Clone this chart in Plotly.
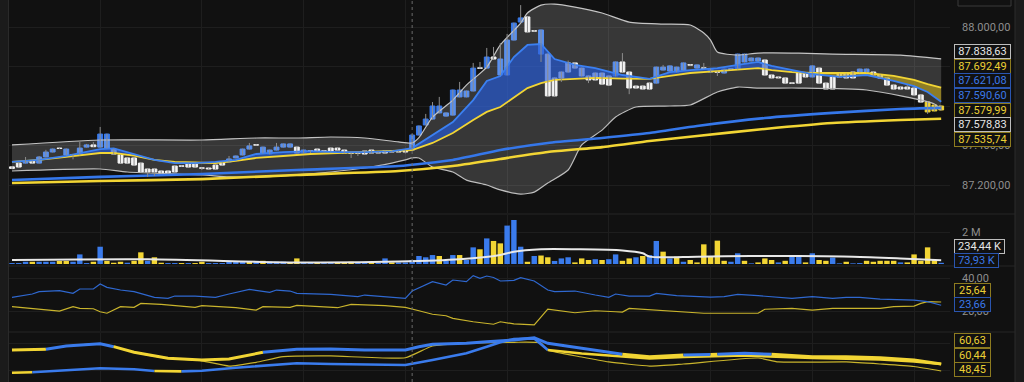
import plotly.graph_objects as go

# ---------------- DATA ----------------
opens = [87292, 87311, 87311, 87322, 87311, 87342, 87367, 87387, 87352, 87354,
         87352, 87392, 87403, 87392, 87387, 87382, 87352, 87337, 87337, 87311,
         87281, 87281, 87271, 87271, 87296, 87297, 87306, 87306, 87287, 87286,
         87301, 87317, 87317, 87337, 87352, 87382, 87404, 87362, 87357, 87377,
         87392, 87392, 87392, 87362, 87373, 87382, 87373, 87387, 87387, 87377,
         87363, 87363, 87372, 87377, 87367, 87372, 87372, 87372, 87370, 87377,
         87453, 87504, 87534, 87565, 87549, 87554, 87646, 87646, 87676, 87793,
         87792, 87848, 87757, 87757, 87934, 88025, 88051, 87981, 87863, 87863,
         87742, 87772, 87818, 87818, 87792, 87752, 87767, 87767, 87752, 87752,
         87823, 87772, 87701, 87701, 87716, 87716, 87782, 87777, 87772, 87782,
         87809, 87792, 87793, 87772, 87773, 87767, 87788, 87787, 87823, 87828,
         87828, 87833, 87757, 87747, 87742, 87717, 87767, 87767, 87747, 87792,
         87716, 87747, 87762, 87762, 87772, 87772, 87772, 87772, 87757, 87742,
         87706, 87696, 87696, 87691, 87656, 87620, 87605, 87600]
closes = [87284, 87291, 87322, 87311, 87342, 87367, 87382, 87385, 87382, 87351,
          87387, 87403, 87394, 87458, 87458, 87357, 87311, 87311, 87301, 87266,
          87266, 87266, 87261, 87261, 87266, 87295, 87291, 87291, 87285, 87281,
          87281, 87301, 87332, 87347, 87382, 87398, 87402, 87392, 87377, 87392,
          87408, 87408, 87362, 87377, 87371, 87372, 87371, 87372, 87377, 87362,
          87361, 87361, 87357, 87362, 87362, 87362, 87367, 87367, 87367, 87453,
          87499, 87534, 87600, 87600, 87565, 87681, 87681, 87676, 87792, 87791,
          87848, 87838, 87838, 87934, 88020, 88046, 87975, 87979, 87985, 87651,
          87651, 87742, 87772, 87792, 87752, 87732, 87732, 87711, 87706, 87823,
          87772, 87691, 87691, 87686, 87686, 87797, 87797, 87803, 87797, 87818,
          87807, 87808, 87791, 87787, 87771, 87787, 87786, 87863, 87863, 87843,
          87843, 87757, 87742, 87742, 87716, 87715, 87716, 87747, 87803, 87716,
          87686, 87686, 87747, 87742, 87742, 87787, 87787, 87757, 87742, 87706,
          87686, 87686, 87686, 87656, 87620, 87570, 87575, 87580]
highs = [87296, 87313, 87342, 87324, 87347, 87378, 87385, 87392, 87385, 87357,
         87418, 87408, 87418, 87494, 87460, 87384, 87354, 87339, 87339, 87313,
         87283, 87283, 87273, 87273, 87298, 87299, 87308, 87308, 87289, 87288,
         87303, 87319, 87347, 87349, 87384, 87413, 87406, 87394, 87379, 87413,
         87410, 87410, 87394, 87379, 87375, 87384, 87375, 87389, 87389, 87379,
         87365, 87365, 87374, 87379, 87369, 87374, 87374, 87374, 87380, 87458,
         87501, 87560, 87620, 87646, 87567, 87683, 87722, 87678, 87818, 87823,
         87894, 87899, 87919, 87965, 88022, 88111, 88053, 87985, 87987, 87865,
         87744, 87774, 87830, 87820, 87794, 87754, 87769, 87769, 87754, 87825,
         87868, 87774, 87703, 87703, 87718, 87799, 87808, 87805, 87799, 87820,
         87811, 87810, 87818, 87789, 87775, 87789, 87790, 87865, 87865, 87845,
         87845, 87835, 87759, 87749, 87744, 87719, 87769, 87769, 87805, 87794,
         87718, 87749, 87764, 87764, 87774, 87789, 87789, 87774, 87759, 87744,
         87708, 87698, 87706, 87693, 87658, 87622, 87607, 87602]
lows = [87280, 87289, 87309, 87309, 87309, 87340, 87365, 87382, 87350, 87330,
        87350, 87390, 87392, 87390, 87385, 87355, 87309, 87309, 87299, 87264,
        87241, 87246, 87259, 87259, 87264, 87293, 87289, 87289, 87276, 87279,
        87279, 87299, 87315, 87335, 87350, 87380, 87400, 87360, 87355, 87375,
        87390, 87390, 87360, 87360, 87362, 87370, 87369, 87370, 87375, 87360,
        87337, 87347, 87355, 87360, 87360, 87360, 87365, 87365, 87360, 87375,
        87451, 87502, 87532, 87563, 87547, 87552, 87644, 87644, 87674, 87789,
        87790, 87836, 87755, 87755, 87932, 88023, 87970, 87977, 87823, 87649,
        87649, 87722, 87770, 87790, 87750, 87716, 87730, 87709, 87704, 87750,
        87770, 87660, 87689, 87684, 87684, 87714, 87780, 87775, 87770, 87780,
        87805, 87790, 87789, 87770, 87752, 87765, 87784, 87785, 87821, 87826,
        87826, 87755, 87740, 87740, 87714, 87713, 87714, 87745, 87745, 87714,
        87684, 87684, 87745, 87740, 87740, 87770, 87770, 87755, 87740, 87704,
        87684, 87684, 87684, 87654, 87618, 87560, 87573, 87578]
highlight_candles = [135, 136, 137]
cursor_index = 59

bb_upper_idx = [0, 13, 28, 36, 42, 47, 52, 57, 59, 60, 62, 65, 67, 70, 72, 75, 76, 78, 80, 83,
                87, 91, 96, 100, 102, 103, 104, 107, 110, 116, 121, 131, 137]
bb_upper = [87403, 87428, 87428, 87438, 87438, 87443, 87438, 87418, 87413, 87440, 87544, 87630,
            87706, 87797, 87909, 88020, 88071, 88111, 88116, 88101, 88071, 88025, 88015, 88010,
            87970, 87934, 87873, 87858, 87868, 87868, 87863, 87858, 87838.63]
bb_lower_idx = [0, 13, 17, 28, 32, 37, 42, 47, 52, 56, 58, 59, 60, 62, 65, 67, 70, 72, 75, 77,
                79, 82, 84, 87, 89, 92, 97, 100, 104, 107, 110, 116, 126, 136, 137]
bb_lower = [87271, 87281, 87266, 87251, 87241, 87241, 87251, 87266, 87286, 87311, 87327, 87337,
            87337, 87291, 87266, 87225, 87200, 87175, 87154, 87164, 87210, 87276, 87403, 87478,
            87544, 87595, 87600, 87605, 87671, 87696, 87691, 87691, 87681, 87610, 87578.83]

ema_fast_idx = [0, 4, 8, 13, 15, 18, 21, 24, 27, 30, 33, 36, 40, 44, 48, 52, 56, 59, 62, 65,
                68, 70, 72, 74, 76, 78, 80, 83, 86, 90, 94, 97, 100, 104, 108, 110, 112, 115,
                118, 122, 126, 130, 133, 135, 137]
ema_fast_blue = [87317, 87327, 87347, 87382, 87385, 87357, 87327, 87311, 87311, 87317, 87327,
                 87357, 87367, 87372, 87367, 87367, 87370, 87387, 87451, 87519, 87630, 87727,
                 87752, 87848, 87909, 87914, 87838, 87808, 87792, 87757, 87737, 87772, 87782,
                 87792, 87813, 87823, 87803, 87782, 87762, 87747, 87757, 87727, 87701, 87671,
                 87621.08]
ema_fast_yellow = [87317, 87327, 87342, 87362, 87362, 87349, 87327, 87317, 87314, 87311, 87322,
                   87337, 87347, 87357, 87362, 87367, 87372, 87377, 87413, 87463, 87529, 87570,
                   87595, 87641, 87691, 87716, 87732, 87737, 87742, 87739, 87737, 87752, 87767,
                   87777, 87787, 87792, 87782, 87772, 87767, 87767, 87767, 87752, 87732, 87711,
                   87692.49]
ema_slow_idx = [0, 13, 28, 42, 57, 65, 72, 79, 87, 94, 101, 111, 121, 131, 137]
ema_slow_blue = [87225, 87241, 87256, 87276, 87296, 87327, 87377, 87413, 87438, 87463, 87499,
                 87539, 87565, 87585, 87590.60]
ema_slow_yellow = [87210, 87220, 87230, 87251, 87271, 87296, 87332, 87367, 87392, 87423, 87448,
                   87484, 87514, 87529, 87535.74]

volume_m = [0.06, 0.06, 0.14, 0.14, 0.14, 0.14, 0.14, 0.19, 0.19, 0.14,
            0.6, 0.06, 0.14, 1.08, 0.19, 0.08, 0.14, 0.08, 0.2, 0.73,
            0.2, 0.42, 0.08, 0.06, 0.06, 0.06, 0.06, 0.06, 0.14, 0.06,
            0.06, 0.06, 0.19, 0.14, 0.14, 0.14, 0.19, 0.2, 0.14, 0.14,
            0.14, 0.1, 0.35, 0.1, 0.1, 0.06, 0.06, 0.06, 0.1, 0.1,
            0.14, 0.1, 0.06, 0.06, 0.06, 0.35, 0.1, 0.1, 0.1, 0.25,
            0.5, 0.42, 0.56, 0.5, 0.2, 0.56, 0.56, 0.25, 1.04, 0.92,
            1.6, 1.44, 1.29, 2.4, 2.75, 1.08, 0.14, 0.5, 0.53, 0.42,
            0.19, 0.35, 0.42, 0.1, 0.35, 0.25, 0.3, 0.25, 0.3, 0.6,
            0.2, 0.35, 0.42, 0.5, 0.56, 1.44, 0.77, 0.35, 0.46, 0.14,
            0.25, 0.1, 1.23, 0.5, 1.46, 0.2, 0.14, 0.67, 0.2, 0.04,
            0.1, 0.35, 0.25, 0.1, 0.2, 0.46, 0.56, 0.1, 0.67, 0.25,
            0.2, 0.4, 0.04, 0.14, 0.04, 0.06, 0.2, 0.14, 0.2, 0.2,
            0.2, 0.1, 0.1, 0.6, 0.2, 1.04, 0.25, 0.07393]
volume_side = ['b', 'b', 'b', 'y', 'b', 'b', 'b', 'y', 'y', 'b',
               'b', 'b', 'y', 'b', 'y', 'y', 'y', 'b', 'y', 'y',
               'b', 'y', 'y', 'b', 'b', 'y', 'b', 'y', 'y', 'b',
               'b', 'b', 'b', 'b', 'b', 'y', 'b', 'y', 'b', 'b',
               'b', 'y', 'y', 'b', 'b', 'y', 'b', 'b', 'y', 'y',
               'y', 'b', 'b', 'y', 'b', 'b', 'y', 'b', 'b', 'b',
               'b', 'b', 'b', 'y', 'b', 'b', 'y', 'b', 'b', 'y',
               'b', 'y', 'y', 'b', 'b', 'b', 'y', 'b', 'y', 'y',
               'b', 'b', 'b', 'y', 'y', 'y', 'b', 'y', 'b', 'b',
               'y', 'y', 'b', 'y', 'b', 'b', 'y', 'b', 'y', 'b',
               'y', 'y', 'y', 'y', 'y', 'y', 'b', 'b', 'y', 'b',
               'y', 'y', 'y', 'b', 'y', 'b', 'b', 'y', 'b', 'y',
               'y', 'b', 'b', 'y', 'b', 'b', 'y', 'y', 'y', 'y',
               'y', 'b', 'y', 'y', 'y', 'y', 'y', 'b']
vol_ma_idx = [0, 20, 42, 57, 66, 72, 74, 78, 83, 90, 93, 94, 101, 109, 116, 124, 131, 137]
vol_ma_m = [0.25, 0.29, 0.1, 0.15, 0.29, 0.56, 0.77, 0.92, 0.92, 0.85, 0.67, 0.46, 0.46, 0.5,
            0.5, 0.46, 0.35, 0.23444]

dmi_blue_idx = [0, 2, 3, 4, 7, 9, 10, 12, 13, 14, 16, 18, 21, 23, 24, 27, 30, 32, 35, 38,
                39, 41, 42, 47, 51, 52, 55, 58, 59, 62, 64, 65, 67, 68, 69, 70, 71, 72, 74, 75,
                77, 79, 80, 83, 86, 88, 89, 91, 94, 95, 98, 103, 105, 107, 110, 113, 115, 118,
                121, 123, 125, 128, 133, 135, 137]
dmi_blue = [28.4, 29.6, 30.4, 31.8, 32.4, 30.8, 33.4, 33.4, 36.4, 34.4, 32.8, 31.8, 28.4, 27.8,
            29.2, 29.2, 28.4, 30.4, 33.2, 31.4, 32.8, 32.2, 30.8, 30.2, 28.8, 29.8, 28.9, 27.8,
            32.2, 37.8, 35.8, 38.8, 37.8, 41.4, 39.8, 41.2, 40.3, 38.2, 38.6, 40.2, 38.2, 32.8,
            31.8, 32.2, 29.8, 28.4, 30.4, 29.2, 29.2, 30.8, 29.4, 28.6, 28.8, 30.2, 29.4, 28.2,
            27.8, 28.8, 27.8, 28.4, 28.4, 27.4, 26.8, 25.8, 23.66]
dmi_yellow_idx = [0, 3, 7, 9, 10, 12, 13, 14, 16, 18, 19, 22, 27, 28, 33, 36, 37, 41, 42, 48,
                  50, 55, 58, 60, 62, 64, 65, 68, 71, 72, 74, 77, 79, 83, 86, 89, 90, 91, 95,
                  102, 110, 111, 115, 118, 121, 128, 130, 133, 134, 135, 137]
dmi_yellow = [22.8, 21.8, 20.2, 22.8, 21.8, 21.6, 19.8, 18.9, 22.8, 22.4, 24.8, 24.2, 22.4, 23.4,
              22.2, 20.8, 22.8, 22.4, 23.6, 22.2, 24.2, 23.4, 22.4, 20.4, 18.3, 17.4, 15.8, 13.8,
              12.3, 13.8, 12.5, 11.9, 21.3, 19.2, 20.4, 19.8, 19.6, 21.8, 20.6, 18.9, 18.9, 21.3,
              21.8, 20.8, 21.8, 21.8, 22.8, 23.2, 24.8, 25.8, 25.64]

osc_a_idx = [0, 5, 8, 13, 15, 18, 23, 28, 32, 37, 42, 47, 52, 58, 60, 62, 67, 70, 74, 77,
             79, 84, 90, 94, 99, 103, 104, 108, 112, 118, 123, 128, 133, 137]
osc_a = [84.6, 85.8, 91.5, 95.4, 90.3, 80.6, 70.3, 67.4, 69.1, 80.6, 85.8, 86.3, 84.6, 84.6,
         90.3, 94.4, 96.1, 98.9, 101.8, 105.7, 96.1, 87.5, 77.2, 73.1, 76.0, 77.0, 77.3, 78.9,
         77.2, 73.1, 73.1, 71.3, 67.4, 60.63]
osc_a_tone = ['y', 'b', 'b', 'b', 'y', 'y', 'y', 'y', 'y', 'b', 'b', 'b', 'b', 'b', 'b', 'b',
              'b', 'b', 'b', 'b', 'b', 'b', 'y', 'y', 'b', 'y', 'b', 'b', 'y', 'y', 'y', 'y',
              'y', 'y']
osc_b_idx = [0, 3, 8, 13, 18, 21, 25, 28, 33, 38, 42, 47, 52, 58, 62, 67, 70, 72, 74, 77,
             79, 84, 90, 94, 99, 108, 118, 128, 133, 137]
osc_b = [45.5, 46.2, 49.0, 53.1, 51.4, 48.4, 47.8, 49.0, 54.1, 58.8, 61.7, 60.5, 60.0, 58.8,
         67.4, 78.9, 90.3, 97.8, 103.5, 104.5, 84.6, 78.6, 73.4, 70.0, 72.5, 75.1, 70.8, 68.2,
         64.8, 60.44]
osc_b_tone = ['y', 'b', 'b', 'b', 'b', 'y', 'b', 'b', 'b', 'b', 'b', 'b', 'b', 'b', 'b', 'b',
              'b', 'b', 'b', 'b', 'y', 'y', 'y', 'y', 'y', 'y', 'y', 'y', 'y', 'y']
osc_c_idx = [0, 5, 8, 13, 15, 18, 23, 28, 32, 36, 40, 47, 58, 62, 67, 74, 78, 79, 84, 88,
             94, 99, 110, 113, 123, 128, 133, 137]
osc_c = [84.6, 85.8, 91.5, 95.4, 90.3, 80.6, 70.3, 66.0, 57.0, 63.4, 73.1, 74.3, 71.3, 91.5,
         96.1, 97.8, 96.6, 84.6, 72.5, 64.0, 57.0, 60.5, 70.8, 64.0, 64.0, 60.5, 56.2, 48.45]

# grid values of the price axis; labels under the value tags are covered in the original
price_ticks = [87200, 87400, 87600, 87800, 88000]
price_tick_text = ['87.200,00', '87.400,00', '', '', '88.000,00']
vol_ticks = [2]
vol_tick_text = ['2 M']
dmi_ticks = [20, 40]
dmi_tick_text = ['20,00', '40,00']

# value tags on the right axis: (text, style)
price_tags = [('87.838,63', 'w'), ('87.692,49', 'y'), ('87.621,08', 'b'), ('87.590,60', 'b'),
              ('87.579,99', 'y'), ('87.578,83', 'w'), ('87.535,74', 'y')]
vol_tags = [('234,44 K', 'w'), ('73,93 K', 'b')]
dmi_tags = [('25,64', 'y'), ('23,66', 'b')]
osc_tags = [('60,63', 'y'), ('60,44', 'y'), ('48,45', 'y')]

# ---------------- STYLE / LAYOUT ----------------
W, H = 1024, 382
ML, MR = 9, 74
PW = W - ML - MR

def px2x(px):
    return (px - ML) / PW

def py2y(py):
    return 1 - py / H

BG = '#111111'
BLUE = '#3a7bec'
YEL = '#f2d534'
WHITE = '#f2f2f2'
TONE = {'b': BLUE, 'y': YEL}
FS = 11

fig = go.Figure()

# Bollinger band
fig.add_trace(go.Scatter(x=bb_lower_idx, y=bb_lower, mode='lines', xaxis='x', yaxis='y',
                         line=dict(color='#bdbdbd', width=1.2, shape='spline', smoothing=0.6)))
fig.add_trace(go.Scatter(x=bb_upper_idx, y=bb_upper, mode='lines', xaxis='x', yaxis='y',
                         fill='tonexty', fillcolor='rgba(255,255,255,0.16)',
                         line=dict(color='#c4c4c4', width=1.2, shape='spline', smoothing=0.6)))

# fast EMA cloud
hi = [max(b, y) for b, y in zip(ema_fast_blue, ema_fast_yellow)]
lo = [min(b, y) for b, y in zip(ema_fast_blue, ema_fast_yellow)]
fig.add_trace(go.Scatter(x=ema_fast_idx, y=ema_fast_yellow, mode='lines', xaxis='x', yaxis='y',
                         line=dict(width=0, color='rgba(0,0,0,0)')))
fig.add_trace(go.Scatter(x=ema_fast_idx, y=hi, mode='lines', xaxis='x', yaxis='y',
                         fill='tonexty', fillcolor='rgba(35,90,219,0.65)',
                         line=dict(width=0, color='rgba(0,0,0,0)')))
fig.add_trace(go.Scatter(x=ema_fast_idx, y=ema_fast_yellow, mode='lines', xaxis='x', yaxis='y',
                         line=dict(width=0, color='rgba(0,0,0,0)')))
fig.add_trace(go.Scatter(x=ema_fast_idx, y=lo, mode='lines', xaxis='x', yaxis='y',
                         fill='tonexty', fillcolor='rgba(200,171,25,0.6)',
                         line=dict(width=0, color='rgba(0,0,0,0)')))

# slow EMAs
fig.add_trace(go.Scatter(x=ema_slow_idx, y=ema_slow_yellow, mode='lines', xaxis='x', yaxis='y',
                         line=dict(color=YEL, width=2.6, shape='spline', smoothing=0.5)))
fig.add_trace(go.Scatter(x=ema_slow_idx, y=ema_slow_blue, mode='lines', xaxis='x', yaxis='y',
                         line=dict(color='#3577ea', width=2.6, shape='spline', smoothing=0.5)))
# fast EMAs
fig.add_trace(go.Scatter(x=ema_fast_idx, y=ema_fast_yellow, mode='lines', xaxis='x', yaxis='y',
                         line=dict(color=YEL, width=1.8)))
fig.add_trace(go.Scatter(x=ema_fast_idx, y=ema_fast_blue, mode='lines', xaxis='x', yaxis='y',
                         line=dict(color='#3b80f2', width=1.8)))

# candles
n = len(opens)
idx = list(range(n))
wx, wy = [], []
for i in idx:
    wx += [i, i, None]
    wy += [lows[i], highs[i], None]
fig.add_trace(go.Scatter(x=wx, y=wy, mode='lines', xaxis='x', yaxis='y',
                         line=dict(color='#8c8c8c', width=1)))
body_base = [min(o, c) for o, c in zip(opens, closes)]
body_len = [abs(c - o) for o, c in zip(opens, closes)]
body_col = []
for i in idx:
    if i in highlight_candles:
        body_col.append(YEL)
    elif closes[i] >= opens[i]:
        body_col.append(BLUE)
    else:
        body_col.append(WHITE)
fig.add_trace(go.Bar(x=idx, y=body_len, base=body_base, width=0.72, xaxis='x', yaxis='y',
                     marker=dict(color=body_col, line=dict(color=body_col, width=1))))

# volume
fig.add_trace(go.Bar(x=idx, y=volume_m, width=0.8, xaxis='x2', yaxis='y2',
                     marker=dict(color=[TONE[s] for s in volume_side], line=dict(width=0))))
fig.add_trace(go.Scatter(x=vol_ma_idx, y=vol_ma_m, mode='lines', xaxis='x2', yaxis='y2',
                         line=dict(color='#e8e8e8', width=2, shape='spline', smoothing=0.8)))

# DMI panel
fig.add_trace(go.Scatter(x=dmi_yellow_idx, y=dmi_yellow, mode='lines', xaxis='x3', yaxis='y3',
                         line=dict(color='#c9b42c', width=1.2)))
fig.add_trace(go.Scatter(x=dmi_blue_idx, y=dmi_blue, mode='lines', xaxis='x3', yaxis='y3',
                         line=dict(color='#2f68d0', width=1.2)))

# oscillator panel
def tone_segments(xs, ys, tones):
    segs = []
    start = 0
    for k in range(1, len(xs)):
        if tones[k] != tones[start] or k == len(xs) - 1:
            segs.append((xs[start:k + 1], ys[start:k + 1], tones[start]))
            start = k
    return segs

fig.add_trace(go.Scatter(x=osc_c_idx, y=osc_c, mode='lines', xaxis='x4', yaxis='y4',
                         line=dict(color='#c9b42c', width=1.2, shape='spline', smoothing=0.5)))
for xs, ys, t in tone_segments(osc_b_idx, osc_b, osc_b_tone):
    fig.add_trace(go.Scatter(x=xs, y=ys, mode='lines', xaxis='x4', yaxis='y4',
                             line=dict(color=TONE[t], width=2.6)))
for xs, ys, t in tone_segments(osc_a_idx, osc_a, osc_a_tone):
    fig.add_trace(go.Scatter(x=xs, y=ys, mode='lines', xaxis='x4', yaxis='y4',
                             line=dict(color=TONE[t], width=3)))

# axes
GRID = '#1e1e1e'
xcommon = dict(range=[-0.44, 138.3], showticklabels=False, ticks='',
               tickvals=list(range(13, 138, 15)), showgrid=True, gridcolor=GRID,
               zeroline=False, showline=False, fixedrange=True, automargin=False)
tickfont = dict(family='Roboto', size=FS, color='#8e8e8e')
ycommon = dict(side='right', showgrid=True, gridcolor=GRID, zeroline=False, showline=False,
               ticks='', tickfont=tickfont, ticklabelstandoff=11, fixedrange=True,
               automargin=False)

fig.update_layout(
    width=W, height=H, margin=dict(l=ML, r=MR, t=0, b=0, pad=0, autoexpand=False),
    paper_bgcolor=BG, plot_bgcolor=BG, showlegend=False, hovermode=False,
    font=dict(family='Roboto', size=FS, color='#8e8e8e'),
    xaxis=dict(xcommon, anchor='y'),
    xaxis2=dict(xcommon, anchor='y2'),
    xaxis3=dict(xcommon, anchor='y3'),
    xaxis4=dict(xcommon, anchor='y4'),
    yaxis=dict(ycommon, domain=[py2y(213), 1], range=[87058.3, 88136.7], anchor='x',
               tickvals=price_ticks, ticktext=price_tick_text),
    yaxis2=dict(ycommon, domain=[py2y(265), py2y(215)], range=[-0.0625, 3.0625], anchor='x2',
                tickvals=vol_ticks, ticktext=vol_tick_text),
    yaxis3=dict(ycommon, domain=[py2y(331), py2y(267)], range=[8.26, 46.59], anchor='x3',
                tickvals=dmi_ticks, ticktext=dmi_tick_text),
    yaxis4=dict(ycommon, domain=[0, py2y(333)], range=[29.54, 113.8], anchor='x4',
                tickvals=[48.5, 96.6], showticklabels=False),
)

shapes = []
# side strips
shapes.append(dict(type='rect', xref='paper', yref='paper', x0=px2x(0), x1=px2x(8.5),
                   y0=0, y1=1, fillcolor='#1b1b1b', line=dict(width=0), layer='above'))
shapes.append(dict(type='line', xref='paper', yref='paper', x0=px2x(8.5), x1=px2x(8.5),
                   y0=0, y1=1, line=dict(color='#2a2a2a', width=1)))
shapes.append(dict(type='rect', xref='paper', yref='paper', x0=px2x(1015), x1=px2x(1025),
                   y0=0, y1=1, fillcolor='#1b1b1b', line=dict(width=0), layer='above'))
shapes.append(dict(type='line', xref='paper', yref='paper', x0=px2x(1015), x1=px2x(1015),
                   y0=0, y1=1, line=dict(color='#2c2c2c', width=1)))
# panel separators
for py in (214, 266, 332):
    shapes.append(dict(type='line', xref='paper', yref='paper', x0=px2x(9), x1=px2x(1015),
                       y0=py2y(py), y1=py2y(py), line=dict(color='#272727', width=1)))
# partially visible button top right
shapes.append(dict(type='rect', xref='paper', yref='paper', x0=px2x(958), x1=px2x(1011),
                   y0=py2y(6), y1=py2y(-8), line=dict(color='#3a3a3a', width=1)))
# crosshair
shapes.append(dict(type='line', xref='x', yref='paper', x0=cursor_index, x1=cursor_index,
                   y0=0, y1=1, line=dict(color='#6a6a6a', width=1, dash='dot')))
fig.update_layout(shapes=shapes)

TAG = {'w': ('#e6e6e6', '#bdbdbd'), 'y': ('#ebcf34', '#8d7b1f'), 'b': ('#3b78e8', '#2a55b0')}
annotations = []

def add_tags(tags, first_py, step, width):
    for k, (txt, st) in enumerate(tags):
        fc, bc = TAG[st]
        annotations.append(dict(text=txt, xref='paper', yref='paper', x=px2x(954),
                                y=py2y(first_py + k * step), xanchor='left', yanchor='middle',
                                showarrow=False, align='center', width=width, height=10.6,
                                bgcolor=BG, bordercolor=bc, borderwidth=1, borderpad=1,
                                font=dict(family='Roboto', size=FS, color=fc)))

add_tags(price_tags, 51.7, 14.6, 53)
add_tags(vol_tags[:1], 246.7, 14, 47)
add_tags(vol_tags[1:], 260.5, 14, 41)
add_tags(dmi_tags, 290, 14, 33)
add_tags(osc_tags, 340.7, 14.3, 33)
fig.update_layout(annotations=annotations)

fig.write_html('out.html', config={'displayModeBar': False, 'staticPlot': True},
               post_script="document.body.style.margin='0';document.body.style.overflow='hidden';"
                           "document.body.style.background='#111111';")
